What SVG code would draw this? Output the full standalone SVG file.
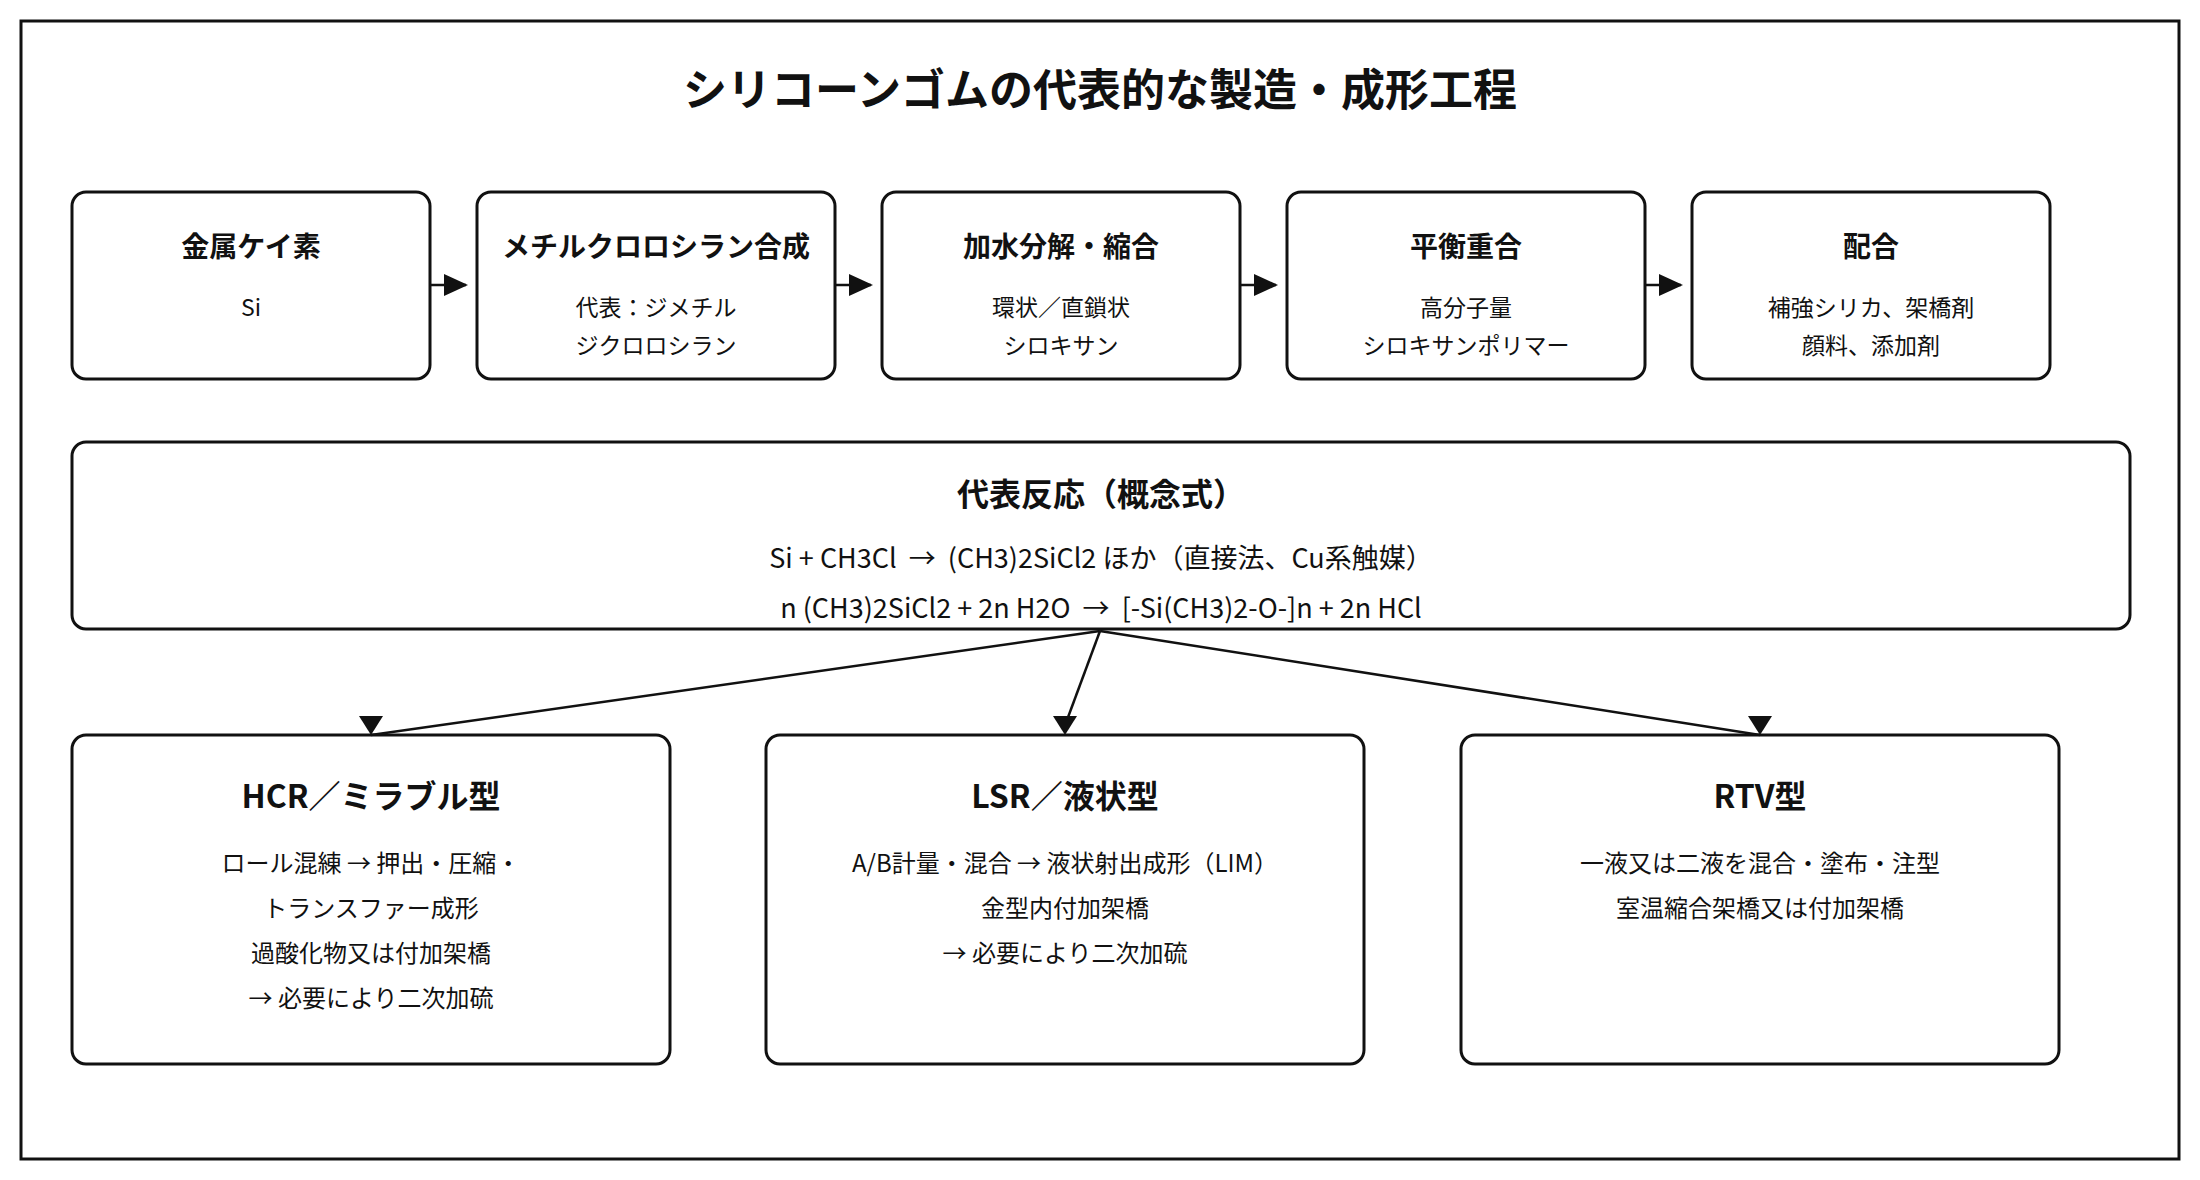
<svg xmlns="http://www.w3.org/2000/svg" width="2200" height="1180" viewBox="0 0 2200 1180">
<style>
text{font-family:"Noto Sans CJK JP","Noto Sans",sans-serif;text-anchor:middle;fill:#111}
.t{font-size:28px;font-weight:700}
.T{font-size:32px;font-weight:700}
.s{font-size:23px}
.b{font-size:24px}
.r{font-size:27px;white-space:pre}
.box{fill:#fff;stroke:#111;stroke-width:3}
.c{stroke:#111;stroke-width:2.5;fill:none}
</style>
<defs><marker id="d" markerWidth="24" markerHeight="22" refX="22" refY="11" orient="auto" markerUnits="userSpaceOnUse" viewBox="0 0 24 22"><path d="M0,0L24,11L0,22z" fill="#111"/></marker></defs>
<rect x="0" y="0" width="2200" height="1180" fill="#fff"/>
<rect x="21" y="21" width="2158" height="1138" fill="#fff" stroke="#111" stroke-width="3"/>
<text x="1100" y="106" style="font-size:44px;font-weight:700">シリコーンゴムの代表的な製造・成形工程</text>
<g id="n1"><rect class="box" x="72" y="192" width="358" height="187" rx="14"/><text class="t" x="251" y="257">金属ケイ素</text><text class="s" x="251" y="316">Si</text></g>
<g id="n2"><rect class="box" x="477" y="192" width="358" height="187" rx="14"/><text class="t" x="656" y="257">メチルクロロシラン合成</text><text class="s" x="656" y="316">代表：ジメチル</text><text class="s" x="656" y="354">ジクロロシラン</text></g>
<g id="n3"><rect class="box" x="882" y="192" width="358" height="187" rx="14"/><text class="t" x="1061" y="257">加水分解・縮合</text><text class="s" x="1061" y="316">環状／直鎖状</text><text class="s" x="1061" y="354">シロキサン</text></g>
<g id="n4"><rect class="box" x="1287" y="192" width="358" height="187" rx="14"/><text class="t" x="1466" y="257">平衡重合</text><text class="s" x="1466" y="316">高分子量</text><text class="s" x="1466" y="354">シロキサンポリマー</text></g>
<g id="n5"><rect class="box" x="1692" y="192" width="358" height="187" rx="14"/><text class="t" x="1871" y="257">配合</text><text class="s" x="1871" y="316">補強シリカ、架橋剤</text><text class="s" x="1871" y="354">顔料、添加剤</text></g>
<g id="n6"><rect class="box" x="72" y="442" width="2058" height="187" rx="14"/><text class="T" x="1101" y="506">代表反応（概念式）</text><text class="r" x="1101" y="568" xml:space="preserve">Si + CH3Cl  →  (CH3)2SiCl2 ほか（直接法、Cu系触媒）</text><text class="r" x="1101" y="618" xml:space="preserve">n (CH3)2SiCl2 + 2n H2O  →  [-Si(CH3)2-O-]n + 2n HCl</text></g>
<g id="n7"><rect class="box" x="72" y="735" width="598" height="329" rx="14"/><text class="T" x="371" y="808">HCR／ミラブル型</text><text class="b" x="371" y="872">ロール混練 → 押出・圧縮・</text><text class="b" x="371" y="917">トランスファー成形</text><text class="b" x="371" y="962">過酸化物又は付加架橋</text><text class="b" x="371" y="1007">→ 必要により二次加硫</text></g>
<g id="n8"><rect class="box" x="766" y="735" width="598" height="329" rx="14"/><text class="T" x="1065" y="808">LSR／液状型</text><text class="b" x="1065" y="872">A/B計量・混合 → 液状射出成形（LIM）</text><text class="b" x="1065" y="917">金型内付加架橋</text><text class="b" x="1065" y="962">→ 必要により二次加硫</text></g>
<g id="n9"><rect class="box" x="1461" y="735" width="598" height="329" rx="14"/><text class="T" x="1760" y="808">RTV型</text><text class="b" x="1760" y="872">一液又は二液を混合・塗布・注型</text><text class="b" x="1760" y="917">室温縮合架橋又は付加架橋</text></g>
<g id="connectors">
<line class="c" x1="431" y1="285" x2="466" y2="285" marker-end="url(#d)"/>
<line class="c" x1="836" y1="285" x2="871" y2="285" marker-end="url(#d)"/>
<line class="c" x1="1241" y1="285" x2="1276" y2="285" marker-end="url(#d)"/>
<line class="c" x1="1646" y1="285" x2="1681" y2="285" marker-end="url(#d)"/>
<line class="c" x1="1100" y1="631" x2="371" y2="735"/><path d="M359,716L383,716L371,735z" fill="#111"/>
<line class="c" x1="1100" y1="631" x2="1067" y2="720"/><path d="M1053,716L1077,716L1065,735z" fill="#111"/>
<line class="c" x1="1100" y1="631" x2="1760" y2="735"/><path d="M1748,716L1772,716L1760,735z" fill="#111"/>
</g>
</svg>
